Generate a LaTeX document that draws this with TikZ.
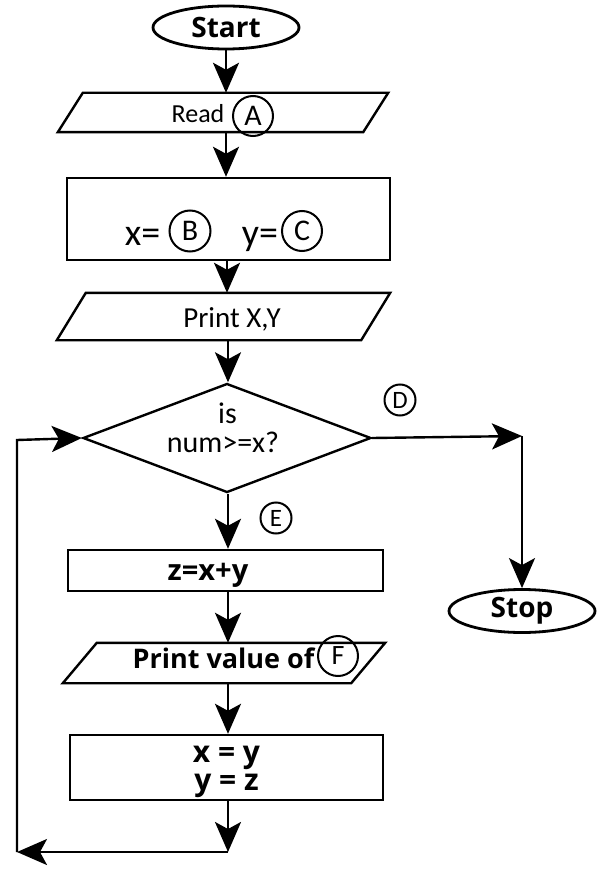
\documentclass[tikz,border=0pt]{standalone}
\usepackage{fontspec}
\setmainfont{Carlito}
\newfontfamily\osans{Open Sans}
\usetikzlibrary{shapes.geometric,arrows.meta,calc}
\begin{document}
\begin{tikzpicture}[x=1pt,y=-1pt,
  line/.style={line width=2.4pt},
  arr/.style={line, -{Stealth[length=30pt,width=26pt,inset=7pt]}},
  term/.style={ellipse, draw, line width=2.8pt, minimum width=146pt, minimum height=43pt, inner sep=0pt, font=\osans\bfseries\fontsize{28}{30}\selectfont},
  proc/.style={rectangle, draw, line width=2.4pt, inner sep=0pt},
  frame/.style={rectangle, inner sep=0pt},
  outline/.style={line width=2.4pt, line join=miter},
  cond/.style={diamond, draw, line width=2.4pt, inner sep=0pt, minimum width=288pt, minimum height=109pt},
  lettr/.style={circle, draw, line width=2pt, inner sep=0pt, minimum size=31pt, font=\fontsize{25}{27}\selectfont},
  txt/.style={inner sep=0pt, anchor=base},
  btxt/.style={inner sep=0pt, anchor=base, font=\osans\bfseries\fontsize{29}{31}\selectfont}
]
\useasboundingbox (0,0) rectangle (604,877);

% terminals
\node[term] (start) at (226,27.5) {Start};
\node[term] (stop) at (522,611) {Stop};

% Read: parallelogram drawn around a frame node
\node[frame, minimum width=305pt, minimum height=39pt] (read) at (223,112.5) {};
\draw[outline] ($(read.south west)+(-12.5,0)$) -- ($(read.north west)+(12.5,0)$) -- ($(read.north east)+(12.5,0)$) -- ($(read.south east)+(-12.5,0)$) -- cycle;
\node[txt, font=\fontsize{26}{28}\selectfont] (readt) at (198,123) {Read};
\node[lettr, minimum size=40pt, font=\fontsize{30}{32}\selectfont] (cA) at (253,116) {A};

% initial values
\node[proc, minimum width=323pt, minimum height=82pt] (init) at (228.5,219) {};
\node[txt, font=\fontsize{38}{40}\selectfont] (xeq) at (142.5,245) {x=};
\node[lettr, minimum size=41pt, font=\fontsize{30}{32}\selectfont] (cB) at (190,231) {B};
\node[txt, font=\fontsize{38}{40}\selectfont] (yeq) at (260,245) {y=};
\node[lettr, minimum size=40pt, font=\fontsize{30}{32}\selectfont] (cC) at (302,231) {C};

% Print X,Y
\node[frame, minimum width=304pt, minimum height=47pt] (pxy) at (223.5,316.5) {};
\draw[outline] ($(pxy.south west)+(-14.5,0)$) -- ($(pxy.north west)+(14.5,0)$) -- ($(pxy.north east)+(14.5,0)$) -- ($(pxy.south east)+(-14.5,0)$) -- cycle;
\node[txt, font=\fontsize{29}{31}\selectfont] (pxyt) at (232,327) {Print X,Y};

% decision
\node[cond] (dec) at (227,438) {};
\node[txt, font=\fontsize{30}{32}\selectfont] (dect1) at (227.5,423) {is};
\node[txt, font=\fontsize{30}{32}\selectfont] (dect2) at (223,452) {num>=x?};
\node[lettr] (cD) at (400,400) {D};
\node[lettr] (cE) at (276,518) {E};

% loop body
\node[proc, minimum width=315pt, minimum height=41pt] (sum) at (225.5,570.5) {};
\node[btxt] (sumt) at (208,580) {z=x+y};

\node[frame, minimum width=288pt, minimum height=40pt] (pf) at (224,663) {};
\draw[outline] ($(pf.south west)+(-17,0)$) -- ($(pf.north west)+(17,0)$) -- ($(pf.north east)+(17,0)$) -- ($(pf.south east)+(-17,0)$) -- cycle;
\node[btxt, font=\osans\bfseries\fontsize{27}{29}\selectfont] (pft) at (223.5,668) {Print value of};
\node[lettr, minimum size=40pt, font=\fontsize{28}{30}\selectfont] (cF) at (338,656) {F};

\node[proc, minimum width=313pt, minimum height=65pt] (swap) at (226.5,767.5) {};
\node[btxt, font=\osans\bfseries\fontsize{30}{32}\selectfont] (swapt1) at (226.5,762) {x = y};
\node[btxt, font=\osans\bfseries\fontsize{30}{32}\selectfont] (swapt2) at (226.5,790) {y = z};

% connectors
\coordinate (rc) at (522,436);
\coordinate (lb) at (228,852);
\coordinate (ll) at (17,852);
\coordinate (lt) at (17,440);

\draw[arr] (start.south) -- (start.south |- read.north);
\draw[arr] (read.south -| 226,0) -- (init.north -| 226,0);
\draw[arr] (init.south -| 227,0) -- (pxy.north -| 227,0);
\draw[arr] (pxy.south -| 228,0) -- (dec.north -| 228,0);
\draw[arr] (dec.south -| 228,0) -- (sum.north -| 228,0);
\draw[arr] (sum.south -| 228,0) -- (pf.north -| 228,0);
\draw[arr] (pf.south -| 228,0) -- (swap.north -| 228,0);
\draw[arr] (swap.south -| 228,0) -- (lb);
\draw[arr] (lb) -- (ll);
\draw[arr] (ll) -- (lt) -- (dec.west);
\draw[arr] (dec.east) -- (rc);
\draw[arr] (rc) -- (stop.north);
\end{tikzpicture}
\end{document}
